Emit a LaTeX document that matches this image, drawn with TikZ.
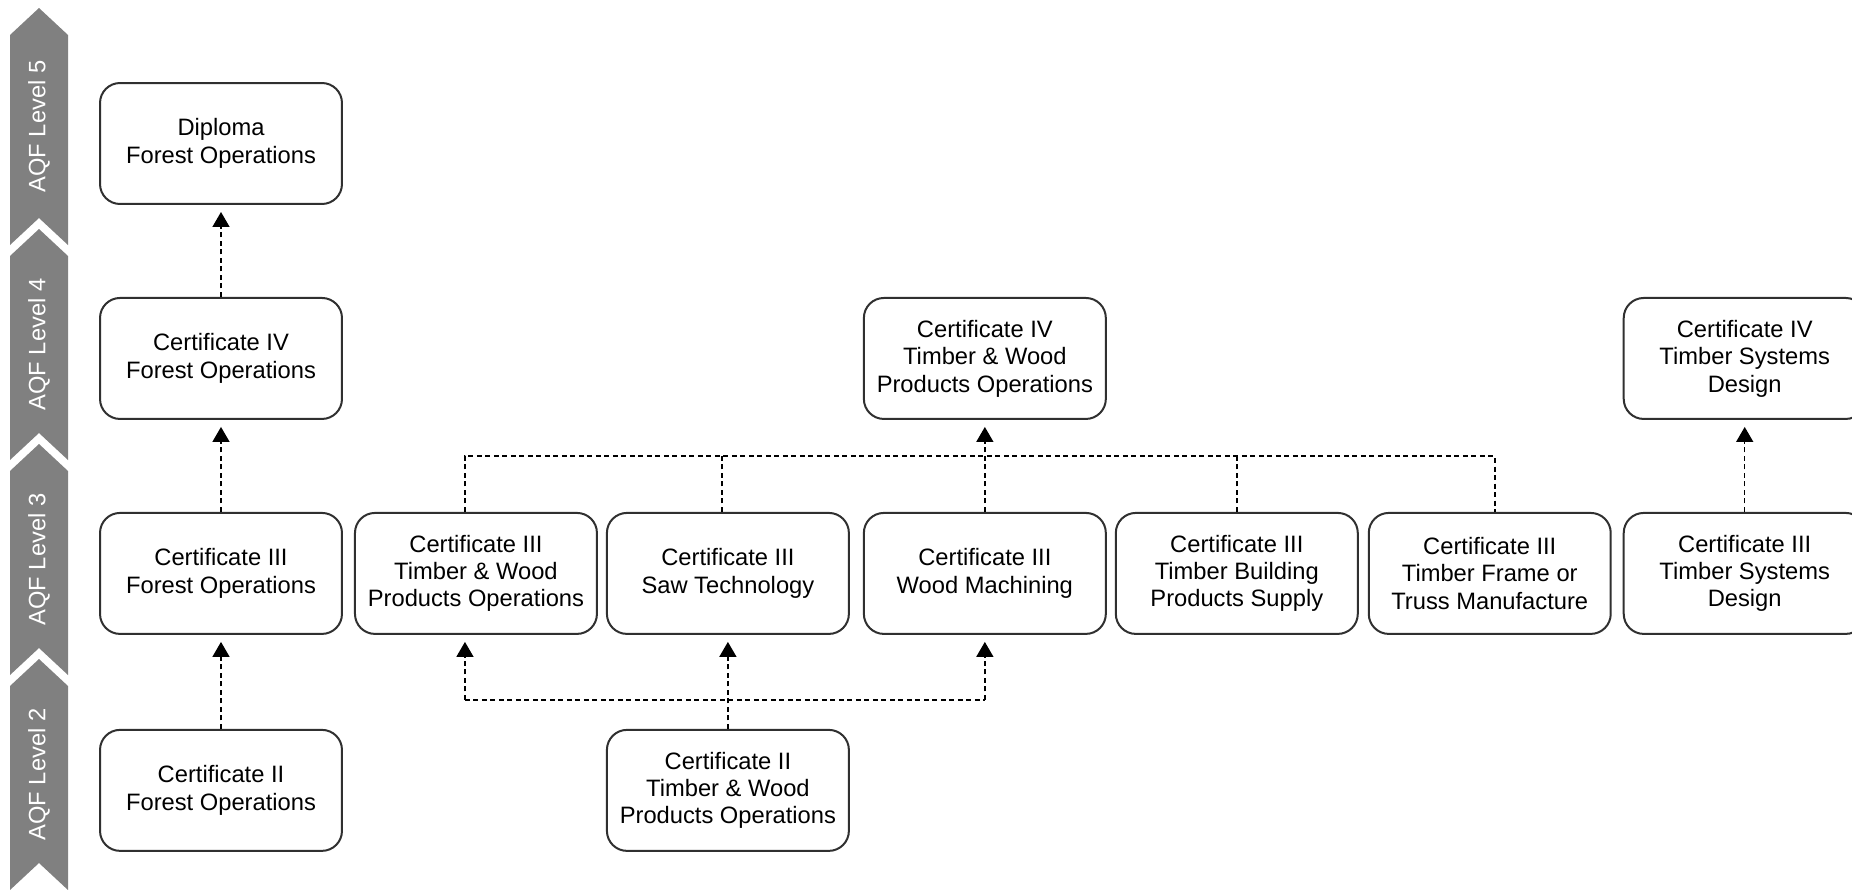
\documentclass[tikz,border=0pt]{standalone}
\usepackage{fontspec}
\setmainfont{Liberation Sans}
\usetikzlibrary{arrows.meta,positioning,calc}

\definecolor{bandgrey}{HTML}{808080}
\definecolor{boxline}{HTML}{303030}

\begin{document}
\begin{tikzpicture}[
    x=0.02cm, y=-0.02cm,
    node distance=1.84cm,
    qual/.style={draw=boxline, line width=0.04cm, rounded corners=0.4cm, align=center,
      minimum width=4.84cm, minimum height=2.42cm, font=\fontsize{13.5}{15.6}\selectfont},
    link/.style={draw=black, line width=0.03cm, dash pattern=on 0.1cm off 0.07cm},
    uplink/.style={link, ->, shorten >=0.14cm},
    lvlband/.style={fill=bandgrey},
    lvllabel/.style={rotate=90, text=white, font=\fontsize{13.5}{15.6}\selectfont},
    >={Triangle[length=0.3cm,width=0.34cm]}
  ]
    \useasboundingbox (0,0) rectangle (1852,889);

    % AQF level band
    \foreach \lvl/\top/\bot in {5/8/218, 4/229/433, 3/444/648, 2/659/863} {
      \fill[lvlband] (10,\top+27) -- (39,\top) -- (68,\top+27) -- (68,\bot+27) -- (39,\bot) -- (10,\bot+27) -- cycle;
      \node[lvllabel] (aqf\lvl) at (39,{(\top+\bot+27)/2}) {AQF Level \lvl};
    }

    % forest operations
    \node[qual] (dipf) at (221,143.5) {Diploma\\Forest Operations};
    \node[qual, below=of dipf] (c4f) {Certificate IV\\Forest Operations};
    \node[qual, below=of c4f] (c3f) {Certificate III\\Forest Operations};
    \node[qual, below=1.88cm of c3f] (c2f) {Certificate II\\Forest Operations};

    % certificate III row
    \node[qual, right=0.22cm of c3f] (c3tw) {Certificate III\\Timber \& Wood\\Products Operations};
    \node[qual, right=0.16cm of c3tw] (c3saw) {Certificate III\\Saw Technology};
    \node[qual, right=0.26cm of c3saw] (c3wm) {Certificate III\\Wood Machining};
    \node[qual, right=0.16cm of c3wm] (c3tb) {Certificate III\\Timber Building\\Products Supply};
    \node[qual, right=0.18cm of c3tb] (c3tf) {Certificate III\\Timber Frame or\\Truss Manufacture};
    \node[qual, right=0.22cm of c3tf] (c3tsd) {Certificate III\\Timber Systems\\Design};

    \node[qual, above=of c3wm] (c4tw) {Certificate IV\\Timber \& Wood\\Products Operations};
    \node[qual, above=of c3tsd] (c4tsd) {Certificate IV\\Timber Systems\\Design};
    \node[qual, below=1.88cm of c3saw] (c2tw) {Certificate II\\Timber \& Wood\\Products Operations};

    \draw[uplink] (c2f) -- (c3f);
    \draw[uplink] (c3f) -- (c4f);
    \draw[uplink] (c4f) -- (dipf);
    \draw[uplink] (c3tsd) -- (c4tsd);

    % lower bus
    \coordinate (lowbus) at ($(c2tw.north)+(0,0.58cm)$);
    \coordinate (twfoot) at ([xshift=-0.22cm]c3tw.south);
    \draw[uplink] (c2tw.north) -- (c2tw.north |- c3saw.south);
    \draw[link] (twfoot |- lowbus) -- (c3wm.south |- lowbus);
    \draw[uplink] (twfoot |- lowbus) -- (twfoot);
    \draw[uplink] (c3wm.south |- lowbus) -- (c3wm.south);

    % upper bus
    \coordinate (topbus) at ($(c3wm.north)+(0,1.12cm)$);
    \coordinate (twhead) at ([xshift=-0.22cm]c3tw.north);
    \coordinate (sawhead) at ([xshift=-0.12cm]c3saw.north);
    \coordinate (tfhead) at ([xshift=0.1cm]c3tf.north);
    \draw[link] (twhead) |- (tfhead |- topbus) -- (tfhead);
    \draw[link] (sawhead) -- (sawhead |- topbus);
    \draw[link] (c3tb.north) -- (c3tb.north |- topbus);
    \draw[uplink] (c3wm) -- (c4tw);
\end{tikzpicture}
\end{document}
